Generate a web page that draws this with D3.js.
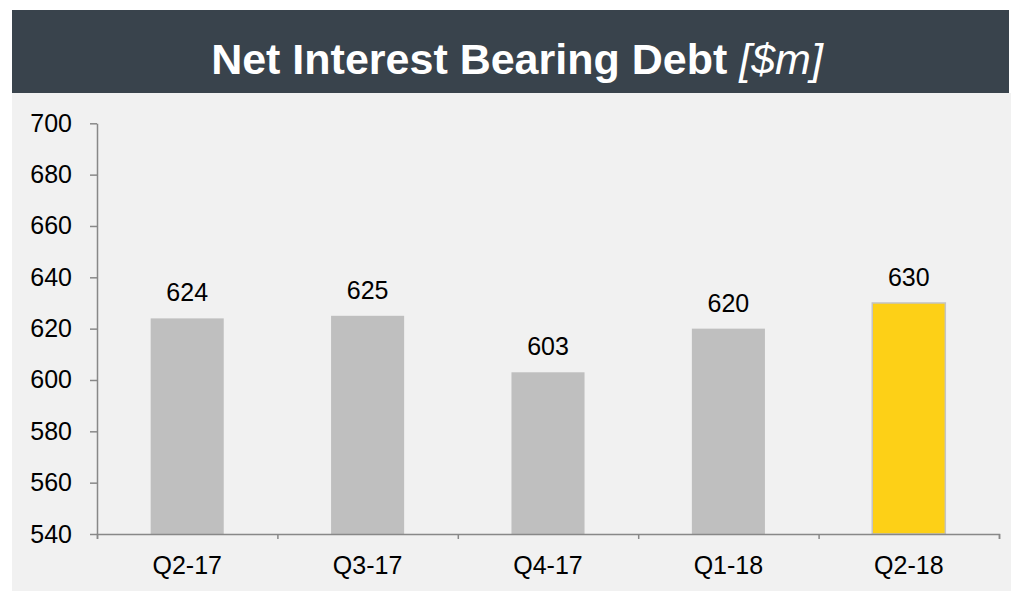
<!DOCTYPE html>
<html>
<head>
<meta charset="utf-8">
<script src="https://cdn.jsdelivr.net/npm/d3@7"></script>
<style>
  html, body { margin: 0; padding: 0; background: #ffffff; }
  svg { display: block; font-family: "Liberation Sans", Arial, sans-serif; }
</style>
</head>
<body>
<svg id="chart" width="1011" height="591"></svg>
<script>
const categories = ["Q2-17", "Q3-17", "Q4-17", "Q1-18", "Q2-18"];
const values = [624, 625, 603, 620, 630];
const highlight = [false, false, false, false, true];
const yTicks = [540, 560, 580, 600, 620, 640, 660, 680, 700];
const titleMain = "Net Interest Bearing Debt ";
const titleUnit = "[$m]";

(function () {
const svg = d3.select("#chart");
const W = 1011, H = 591;

// panel background
svg.append("rect").attr("x", 12).attr("y", 93).attr("width", W - 12).attr("height", H - 93).attr("fill", "#f1f1f1");
// header
svg.append("rect").attr("x", 12).attr("y", 10).attr("width", 997).attr("height", 83).attr("fill", "#39434c");

const title = svg.append("text")
  .attr("x", 517).attr("y", 74)
  .attr("text-anchor", "middle")
  .attr("fill", "#ffffff")
  .style("font-size", "43px");
title.append("tspan").attr("font-weight", "bold").text(titleMain);
title.append("tspan").attr("font-style", "italic").text(titleUnit);

const plotL = 97, plotR = 999, plotT = 123.3, plotB = 534;

const y = d3.scaleLinear().domain([540, 700]).range([plotB, plotT]);
const x = d3.scaleBand().domain(categories).range([plotL, plotR]).paddingInner(0).paddingOuter(0);
const bw = x.bandwidth() * 0.405;

const axisColor = "#888888";
const fs = "25px";

// bars
svg.append("g").selectAll("rect").data(values).join("rect")
  .attr("x", (d, i) => x(categories[i]) + (x.bandwidth() - bw) / 2)
  .attr("y", d => y(d))
  .attr("width", bw)
  .attr("height", d => plotB - y(d))
  .attr("fill", (d, i) => highlight[i] ? "#fdd017" : "#bfbfbf")
  .attr("stroke", (d, i) => highlight[i] ? "#c4c4c4" : "none")
  .attr("stroke-width", 1.5);

// value labels
svg.append("g").selectAll("text").data(values).join("text")
  .attr("x", (d, i) => x(categories[i]) + x.bandwidth() / 2)
  .attr("y", d => y(d) - 17)
  .attr("text-anchor", "middle")
  .attr("fill", "#000")
  .style("font-size", fs)
  .text(d => d);

// y axis
const yAxis = svg.append("g").attr("transform", `translate(${plotL},0)`)
  .call(d3.axisLeft(y).tickValues(yTicks).tickSize(7).tickSizeOuter(0).tickPadding(18));
yAxis.selectAll("path, line").attr("stroke", axisColor).attr("stroke-width", 1.5);
yAxis.selectAll("text").attr("fill", "#000").style("font-size", fs).attr("font-family", null);

// x axis: boundary ticks
const xb = d3.scaleLinear().domain([0, categories.length]).range([plotL, plotR]);
const xAxisTicks = svg.append("g").attr("transform", `translate(0,${plotB})`)
  .call(d3.axisBottom(xb).ticks(categories.length).tickSize(5).tickSizeOuter(5).tickFormat(""));
xAxisTicks.selectAll("path, line").attr("stroke", axisColor).attr("stroke-width", 1.5);

// x axis labels
const xAxis = svg.append("g").attr("transform", `translate(0,${plotB})`)
  .call(d3.axisBottom(x).tickSize(0).tickPadding(22));
xAxis.select(".domain").remove();
xAxis.selectAll("text").attr("fill", "#000").style("font-size", fs).attr("font-family", null);
})();
</script>
</body>
</html>
